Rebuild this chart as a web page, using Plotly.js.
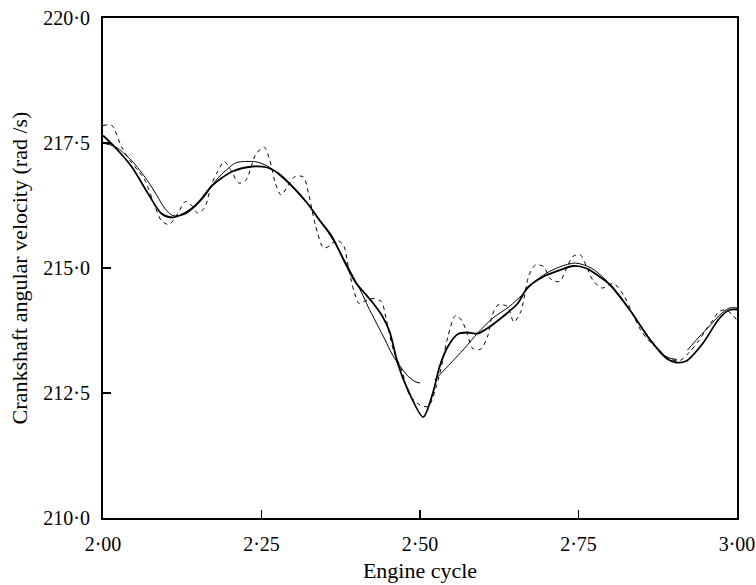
<!DOCTYPE html>
<html>
<head>
<meta charset="utf-8">
<script src="https://cdn.plot.ly/plotly-3.0.1.min.js"></script>
<style>html,body{margin:0;padding:0;background:#fff;}#chart{width:756px;height:585px;}</style>
</head>
<body>
<div id="chart"></div>
<script>
// Thick solid line
const thickX = [2.000,2.020,2.045,2.071,2.092,2.108,2.121,2.139,2.155,2.173,2.204,2.236,2.259,2.277,2.298,2.322,2.340,2.361,2.380,2.398,2.424,2.440,2.452,2.465,2.481,2.505,2.520,2.531,2.544,2.560,2.575,2.591,2.607,2.627,2.654,2.669,2.695,2.721,2.742,2.763,2.776,2.800,2.831,2.863,2.889,2.904,2.920,2.946,2.972,2.988,3.000];
const thickY = [217.65,217.40,217.03,216.49,216.09,216.01,216.05,216.18,216.38,216.66,216.93,217.03,217.01,216.89,216.64,216.30,215.98,215.63,215.15,214.72,214.33,214.05,213.73,213.09,212.56,212.02,212.49,213.03,213.43,213.68,213.71,213.69,213.80,213.99,214.29,214.60,214.83,214.96,215.04,214.99,214.89,214.66,214.16,213.56,213.19,213.11,213.14,213.49,213.99,214.16,214.17];

// Thin solid line (piecewise)
const thinX = [2.000,2.020,2.045,2.070,2.085,2.097,2.110,2.130,2.155,2.180,2.209,2.225,2.243,2.262,2.290,2.322,2.361,2.398,2.410,2.418,2.445,2.455,2.465,2.480,2.492,2.500,2.511,2.523,2.545,2.570,2.591,2.615,2.641,2.660,2.680,2.700,2.720,2.745,2.770,2.790,2.800,2.831,2.863,2.889,2.905,2.913,2.922,2.940,2.956,2.972,2.988,3.000];
const thinY = [217.50,217.42,217.15,216.75,216.45,216.20,216.05,216.08,216.35,216.78,217.10,217.13,217.12,217.02,216.72,216.30,215.60,214.75,214.45,214.23,213.56,213.30,213.10,212.85,212.73,212.70,null,212.76,213.05,213.39,213.70,214.00,214.23,214.45,214.72,214.90,215.02,215.10,215.00,214.80,214.66,214.16,213.58,213.22,213.17,null,213.36,213.62,213.83,214.05,214.20,214.20];

// Dashed (measured) line
const dashX = [2.000,2.014,2.029,2.042,2.055,2.066,2.082,2.092,2.104,2.118,2.130,2.140,2.149,2.160,2.172,2.181,2.191,2.202,2.214,2.225,2.241,2.254,2.263,2.272,2.281,2.292,2.303,2.316,2.324,2.335,2.348,2.358,2.368,2.379,2.388,2.396,2.404,2.415,2.426,2.439,2.447,2.458,2.471,2.484,2.500,2.513,2.525,2.535,2.544,2.556,2.566,2.574,2.584,2.596,2.607,2.614,2.623,2.638,2.648,2.659,2.672,2.682,2.695,2.705,2.720,2.730,2.741,2.753,2.762,2.772,2.787,2.805,2.821,2.835,2.848,2.860,2.878,2.894,2.910,2.925,2.940,2.952,2.962,2.972,2.983,2.993,3.000];
const dashY = [217.85,217.85,217.43,217.16,216.95,216.76,216.23,215.95,215.87,216.09,216.33,216.25,216.10,216.20,216.70,216.93,217.13,216.95,216.70,216.75,217.27,217.42,217.16,216.69,216.46,216.65,216.83,216.82,216.50,215.86,215.40,215.45,215.56,215.46,214.95,214.53,214.29,214.35,214.39,214.33,213.96,213.36,212.96,212.45,212.26,212.23,212.60,213.10,213.63,214.05,213.95,213.70,213.38,213.38,213.65,214.06,214.26,214.23,213.92,214.13,214.86,215.06,215.03,214.79,214.73,214.96,215.23,215.26,215.05,214.77,214.60,214.69,214.46,214.10,213.76,213.56,213.35,213.18,213.15,213.32,213.55,213.78,213.96,214.13,214.16,214.06,213.95];

const xTickVals = [2.00,2.25,2.50,2.75,3.00];
const xTickText = ['2·00','2·25','2·50','2·75','3·00'];
const yTickVals = [210,212.5,215,217.5,220];
const yTickText = ['210·0','212·5','215·0','217·5','220·0'];

const FONT = '"Liberation Serif", "Times New Roman", serif';

const traces = [
  {x: dashX, y: dashY, mode: 'lines', line: {color: '#000', width: 1, dash: '4px,4px', shape: 'spline', smoothing: 0.8}, hoverinfo: 'skip'},
  {x: thinX, y: thinY, mode: 'lines', connectgaps: false, line: {color: '#000', width: 1, shape: 'spline', smoothing: 0.8}, hoverinfo: 'skip'},
  {x: thickX, y: thickY, mode: 'lines', line: {color: '#000', width: 1.8, shape: 'spline', smoothing: 0.8}, hoverinfo: 'skip'}
];

const layout = {
  width: 756, height: 585,
  margin: {l: 103, r: 19, t: 18, b: 67},
  paper_bgcolor: '#fff', plot_bgcolor: '#fff',
  showlegend: false,
  font: {family: FONT, color: '#000', size: 20},
  xaxis: {
    range: [2, 3], fixedrange: true,
    tickvals: xTickVals, ticktext: xTickText,
    ticks: 'inside', ticklen: 8, tickwidth: 1.5, tickcolor: '#000',
    ticklabelstandoff: 7, ticklabeloverflow: 'allow',
    showline: true, linecolor: '#000', linewidth: 2, mirror: true,
    showgrid: false, zeroline: false,
    tickfont: {family: FONT, size: 20, color: '#000'},
    title: {text: 'Engine cycle', font: {family: FONT, size: 22, color: '#000'}, standoff: 9}
  },
  yaxis: {
    range: [210, 220], fixedrange: true,
    tickvals: yTickVals, ticktext: yTickText,
    ticks: 'inside', ticklen: 8, tickwidth: 1.5, tickcolor: '#000',
    ticklabelstandoff: 7,
    showline: true, linecolor: '#000', linewidth: 2, mirror: true,
    showgrid: false, zeroline: false,
    tickfont: {family: FONT, size: 20, color: '#000'},
    title: {text: 'Crankshaft angular velocity (rad /s)', font: {family: FONT, size: 22, color: '#000'}, standoff: 10}
  }
};

Plotly.newPlot('chart', traces, layout, {staticPlot: true, displayModeBar: false});
</script>
</body>
</html>
